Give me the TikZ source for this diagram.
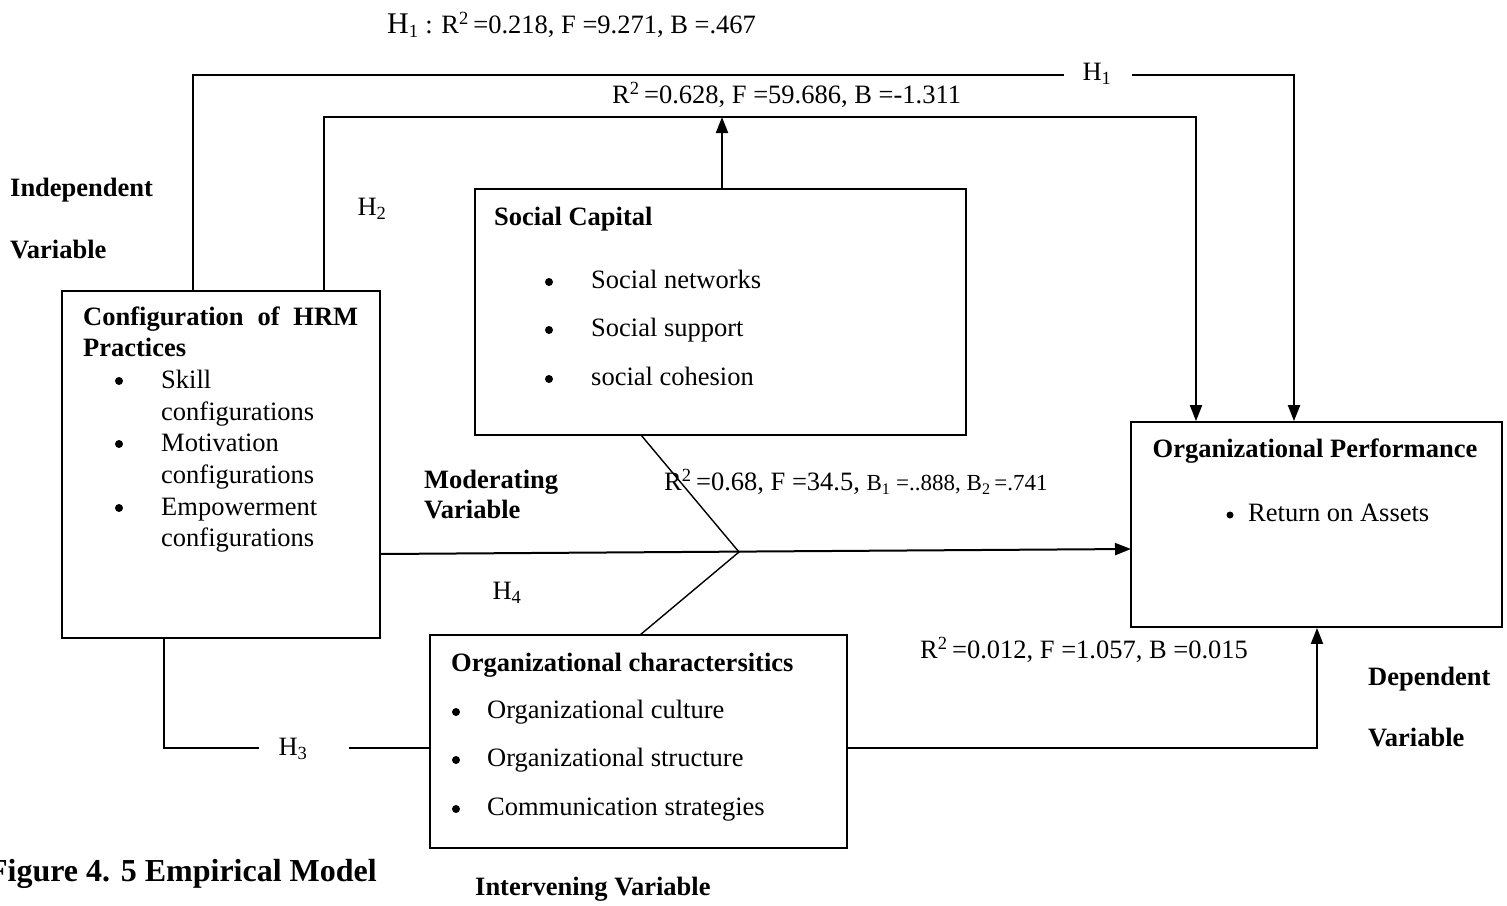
\documentclass[tikz,border=0pt]{standalone}
\usepackage{fontspec}
\setmainfont{Liberation Serif}
\usetikzlibrary{arrows.meta}
\newcommand\fsz{\fontsize{26.5pt}{30pt}\selectfont}
\begin{document}
\begin{tikzpicture}[x=1pt,y=-1pt,
  box/.style={draw, line width=1.8pt, inner sep=0pt, minimum width=#1},
  ln/.style={line width=2pt},
  arr/.style={line width=2pt, -{Triangle[length=16pt,width=12pt]}},
  txt/.style={inner sep=0pt, font=\fsz, anchor=mid west, yshift=-6pt},
  bld/.style={inner sep=0pt, font=\fsz\bfseries, anchor=mid west, yshift=-6pt},
  lbl/.style={inner sep=0pt, font=\fsz, anchor=mid, yshift=-5pt},
  bul/.style={circle, fill, inner sep=0pt, minimum size=8pt}]
\useasboundingbox (0,0) rectangle (1507,905);
\fill[white] (0,0) rectangle (1507,905);

% boxes
\node[box=318pt, minimum height=347pt] (hrm) at (221,464.5) {};
\node[box=491pt, minimum height=246pt] (sc) at (720.5,312) {};
\node[box=371pt, minimum height=205pt] (op) at (1316.5,524.5) {};
\node[box=417pt, minimum height=213pt] (oc) at (638.5,741.5) {};

% HRM box text
\node[bld] (hrmt1) at (83,317) {\hbox to 275pt{Configuration\hfill of\hfill HRM}};
\node[bld] (hrmt2) at (83,348) {Practices};
\node[bul] (hb1) at (119,381) {};
\node[txt] (hi1a) at (161,380) {Skill};
\node[txt] (hi1b) at (161,412) {configurations};
\node[bul] (hb2) at (119,444) {};
\node[txt] (hi2a) at (161,443) {Motivation};
\node[txt] (hi2b) at (161,475) {configurations};
\node[bul] (hb3) at (119,508) {};
\node[txt] (hi3a) at (161,507) {Empowerment};
\node[txt] (hi3b) at (161,538) {configurations};

% Social capital text
\node[bld] (sct) at (494,217) {Social Capital};
\node[bul] (sb1) at (549,282) {};
\node[txt] (si1) at (591,280) {Social networks};
\node[bul] (sb2) at (549,330) {};
\node[txt] (si2) at (591,328) {Social support};
\node[bul] (sb3) at (549,379) {};
\node[txt] (si3) at (591,377) {social cohesion};

% Org performance text
\node[bld, anchor=mid] (opt) at (1315,449) {Organizational Performance};
\node[bul, minimum size=7pt] (ob1) at (1230,515) {};
\node[txt] (oi1) at (1248,513) {Return on Assets};

% Org characteristics text
\node[bld] (oct) at (451,663) {Organizational charactersitics};
\node[bul] (cb1) at (456,712) {};
\node[txt] (ci1) at (487,710) {Organizational culture};
\node[bul] (cb2) at (456,760) {};
\node[txt] (ci2) at (487,758) {Organizational structure};
\node[bul] (cb3) at (456,809) {};
\node[txt] (ci3) at (487,807) {Communication strategies};

% coordinates
\coordinate (h1l) at (193,75);
\coordinate (h1ga) at (1064,75);
\coordinate (h1gb) at (1132,75);
\coordinate (h1r) at (1294,75);
\coordinate (h2l) at (324,117);
\coordinate (h2r) at (1196,117);
\coordinate (m1) at (380,554);
\coordinate (m2) at (1131,549);
\coordinate (d1) at (641,435);
\coordinate (jn) at (739,552);
\coordinate (d2) at (640,635);
\coordinate (h3l) at (164,748);
\coordinate (h3a) at (259,748);
\coordinate (h3b) at (349,748);
\coordinate (h4c) at (1317,748);

% connectors
\draw[ln] (hrm.north -| h1l) -- (h1l) -- (h1ga);
\draw[arr] (h1gb) -- (h1r) -- (op.north -| h1r);
\draw[arr] (hrm.north -| h2l) -- (h2l) -- (h2r) -- (op.north -| h2r);
\draw[arr] (sc.north -| 722,0) -- (h2l -| 722,0);
\draw[arr] (m1) -- (m2);
\draw[line width=1.4pt] (d1) -- (jn) -- (d2);
\draw[ln] (hrm.south -| h3l) -- (h3l) -- (h3a);
\draw[ln] (h3b) -- (oc.west |- h3l);
\draw[arr] (oc.east |- h4c) -- (h4c) -- (op.south -| h4c);

% labels
\node[inner sep=0pt, anchor=mid west, yshift=-6pt] (lh1) at (387,25) {\fontsize{30pt}{32pt}\selectfont H\fsz\textsubscript{1} : R\textsuperscript{2}\,=0.218, F =9.271, B =.467};
\node[lbl] (lh1b) at (1097,73) {H\textsubscript{1}};
\node[txt] (lr1) at (612,95) {R\textsuperscript{2}\,=0.628, F =59.686, B =-1.311};
\node[lbl] (lh2) at (372,208) {H\textsubscript{2}};
\node[bld] (iv1) at (10,188) {Independent};
\node[bld] (iv2) at (10,250) {Variable};
\node[bld] (mv1) at (424,480) {Moderating};
\node[bld] (mv2) at (424,510) {Variable};
\node[txt] (lr2) at (664,482) {R\textsuperscript{2}\,=0.68, F =34.5, {\fontsize{23pt}{26pt}\selectfont B\textsubscript{1} =..888, B\textsubscript{2}\,=.741}};
\node[lbl] (lh4) at (507,592) {H\textsubscript{4}};
\node[lbl] (lh3) at (293,748) {H\textsubscript{3}};
\node[txt] (lr3) at (920,650) {R\textsuperscript{2}\,=0.012, F =1.057, B =0.015};
\node[bld] (dv1) at (1368,677) {Dependent};
\node[bld] (dv2) at (1368,738) {Variable};
\node[bld] (inv) at (475,887) {Intervening Variable};
\node[inner sep=0pt, anchor=mid east, yshift=-6pt, font=\fontsize{32pt}{34pt}\selectfont\bfseries] (cap) at (377,873) {Figure 4. 5 Empirical Model};
\end{tikzpicture}
\end{document}
